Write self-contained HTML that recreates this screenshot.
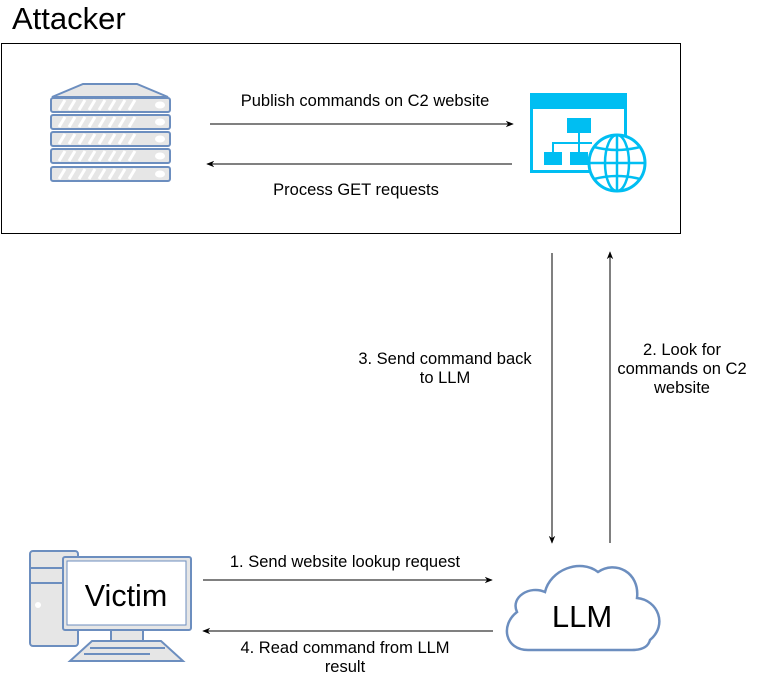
<!DOCTYPE html>
<html><head><meta charset="utf-8"><style>
body{margin:0;background:#fff;}
svg{display:block;font-family:"Liberation Sans",Arial,sans-serif;}
</style></head><body>
<svg width="758" height="677" viewBox="0 0 758 677" xmlns="http://www.w3.org/2000/svg">
<defs>
<marker id="a" viewBox="0 0 10 10" refX="9" refY="5" markerWidth="8" markerHeight="8" orient="auto-start-reverse" markerUnits="userSpaceOnUse"><path d="M0,1 L10,5 L0,9 L3,5 Z" fill="#000"/></marker>
</defs>
<text x="12" y="29" font-size="31" fill="#000">Attacker</text>
<rect x="1.5" y="43.5" width="679" height="190" fill="#fff" stroke="#000" stroke-width="1"/>
<!-- server -->
<g stroke="#6c8ebf" stroke-width="2" fill="#e6e6e6">
<path d="M83,84 L137,84 L168,97 L52,97 Z"/>
<rect x="51" y="98" width="119" height="14" rx="2"/>
<rect x="51" y="115" width="119" height="14" rx="2"/>
<rect x="51" y="132" width="119" height="14" rx="2"/>
<rect x="51" y="149" width="119" height="14" rx="2"/>
<rect x="51" y="167" width="119" height="14" rx="2"/>
</g>
<g stroke="#fff" stroke-width="3">
<path d="M59,110 l6,-10 M69,110 l6,-10 M79,110 l6,-10 M89,110 l6,-10 M99,110 l6,-10 M109,110 l6,-10 M119,110 l6,-10 M129,110 l6,-10"/>
<path d="M59,127 l6,-10 M69,127 l6,-10 M79,127 l6,-10 M89,127 l6,-10 M99,127 l6,-10 M109,127 l6,-10 M119,127 l6,-10 M129,127 l6,-10"/>
<path d="M59,144 l6,-10 M69,144 l6,-10 M79,144 l6,-10 M89,144 l6,-10 M99,144 l6,-10 M109,144 l6,-10 M119,144 l6,-10 M129,144 l6,-10"/>
<path d="M59,161 l6,-10 M69,161 l6,-10 M79,161 l6,-10 M89,161 l6,-10 M99,161 l6,-10 M109,161 l6,-10 M119,161 l6,-10 M129,161 l6,-10"/>
<path d="M59,179 l6,-10 M69,179 l6,-10 M79,179 l6,-10 M89,179 l6,-10 M99,179 l6,-10 M109,179 l6,-10 M119,179 l6,-10 M129,179 l6,-10"/>
</g>
<g fill="#fff"><ellipse cx="160" cy="105" rx="5" ry="3.5"/><ellipse cx="160" cy="122" rx="5" ry="3.5"/><ellipse cx="160" cy="139" rx="5" ry="3.5"/><ellipse cx="160" cy="156" rx="5" ry="3.5"/><ellipse cx="160" cy="174" rx="5" ry="3.5"/></g>
<!-- web icon -->
<g fill="#00bef2">
<rect x="530" y="93" width="97" height="16"/>
<rect x="530" y="93" width="3" height="80"/>
<rect x="530" y="170" width="60" height="3"/>
<rect x="624" y="93" width="3" height="45"/>
<rect x="567" y="118" width="24" height="15"/>
<rect x="544" y="152" width="18" height="13"/>
<rect x="570" y="152" width="18" height="13"/>
<rect x="578" y="133" width="2" height="19"/>
<rect x="552" y="142" width="40" height="2"/>
<rect x="552" y="142" width="2" height="10"/>
</g>
<g fill="#fff" stroke="#00bef2" stroke-width="3">
<circle cx="617" cy="163" r="28"/>
</g>
<g fill="none" stroke="#00bef2" stroke-width="2.5">
<ellipse cx="617" cy="163" rx="12" ry="28"/>
<line x1="617" y1="135" x2="617" y2="191"/>
<line x1="589" y1="163" x2="645" y2="163"/>
<path d="M594,147 Q617,153 640,147"/>
<path d="M594,179 Q617,173 640,179"/>
</g>
<!-- top arrows -->
<line x1="210" y1="124" x2="513" y2="124" stroke="#000" marker-end="url(#a)"/>
<line x1="512" y1="164" x2="207" y2="164" stroke="#000" marker-end="url(#a)"/>
<g font-size="16.5" text-anchor="middle">
<text x="365" y="106">Publish commands on C2 website</text>
<text x="356" y="195">Process GET requests</text>
<text x="445" y="364">3. Send command back</text>
<text x="445" y="383">to LLM</text>
<text x="682" y="355">2. Look for</text>
<text x="682" y="374">commands on C2</text>
<text x="682" y="393">website</text>
<text x="345" y="567">1. Send website lookup request</text>
<text x="345" y="653">4. Read command from LLM</text>
<text x="345" y="672">result</text>
</g>
<!-- vertical -->
<line x1="552" y1="253" x2="552" y2="543" stroke="#000" marker-end="url(#a)"/>
<line x1="610" y1="543" x2="610" y2="252" stroke="#000" marker-end="url(#a)"/>
<!-- bottom arrows -->
<line x1="203" y1="580" x2="492" y2="580" stroke="#000" marker-end="url(#a)"/>
<line x1="493" y1="631" x2="203" y2="631" stroke="#000" marker-end="url(#a)"/>
<!-- victim -->
<g stroke="#6c8ebf" stroke-width="2" fill="#e6e6e6">
<rect x="30" y="551" width="48" height="95" rx="3"/>
<line x1="30" y1="568" x2="62" y2="568"/>
<line x1="30" y1="583" x2="62" y2="583"/>
<rect x="111" y="630" width="32" height="11"/>
<path d="M92,641 L161,641 L183,661 L70,661 Z"/>
<rect x="63" y="557" width="128" height="73" rx="2"/>
</g>
<circle cx="38" cy="605" r="3" fill="#fff"/>
<rect x="67" y="561" width="119" height="64" fill="#fff" stroke="#6c8ebf" stroke-width="1"/>
<g stroke="#6c8ebf" stroke-width="2"><line x1="90" y1="648" x2="165" y2="648"/><line x1="84" y1="654" x2="150" y2="654"/></g>
<text x="126" y="606" font-size="30.5" text-anchor="middle">Victim</text>
<!-- cloud -->
<path d="M528,650 C505,650 500,625 517,612 C510,597 530,585 545,592 C550,570 580,558 598,572 C615,560 640,572 637,598 C658,600 668,625 650,640 C648,648 640,650 632,650 Z" fill="#fff" stroke="#6c8ebf" stroke-width="2.5"/>
<text x="582" y="627" font-size="31" text-anchor="middle">LLM</text>
</svg>
</body></html>
